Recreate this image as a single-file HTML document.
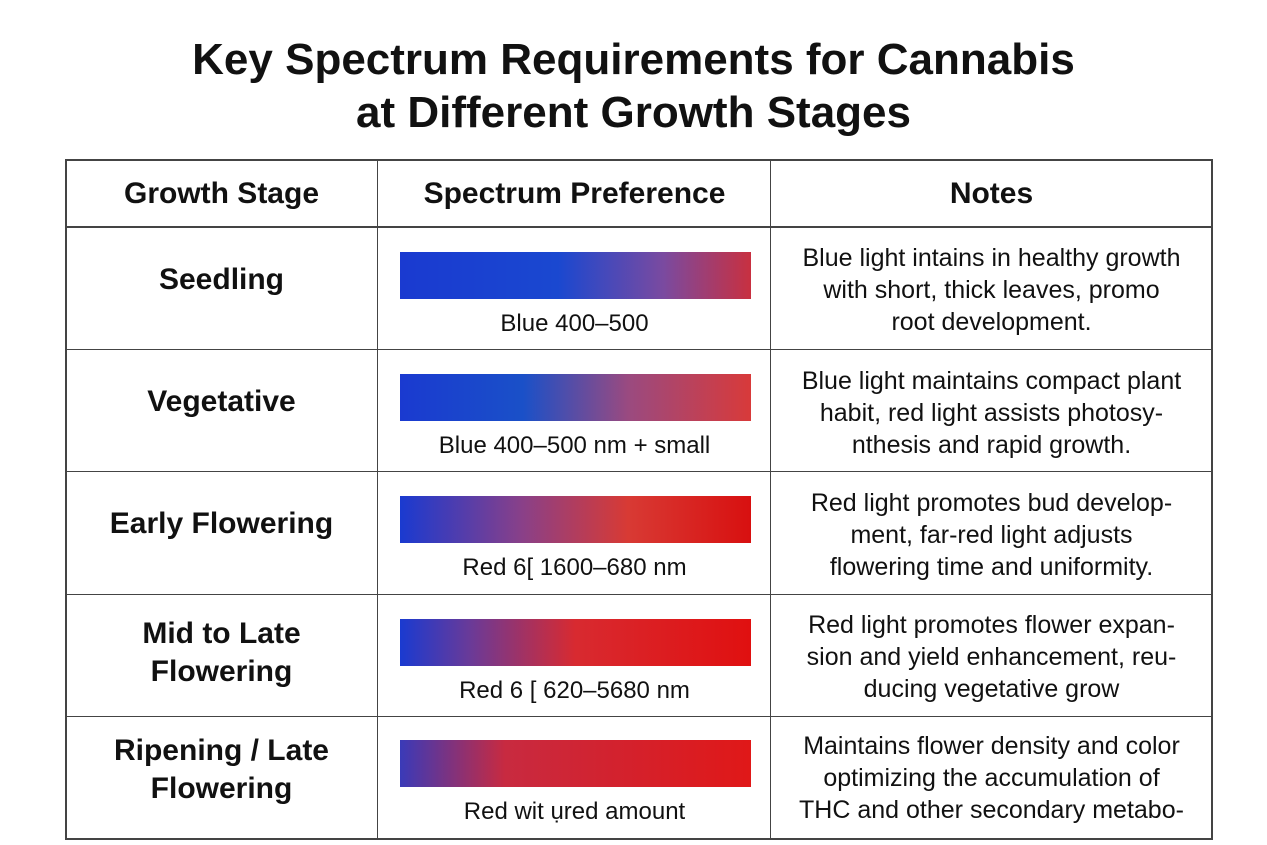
<!DOCTYPE html>
<html><head><meta charset="utf-8"><style>
body{margin:0;width:1267px;height:845px;background:#fff;font-family:"Liberation Sans",sans-serif;color:#111;position:relative;overflow:hidden}
.t{position:absolute;left:0;width:1267px;text-align:center;font-weight:bold;font-size:44px;line-height:53px}
.a{position:absolute;font-size:30px;text-align:center}
.b{position:absolute;left:400px;width:351px;height:47px}
.n{position:absolute;left:771px;width:441px;text-align:center;font-size:25px;line-height:32px;white-space:nowrap}
.l{position:absolute;left:378px;width:393px;text-align:center;font-size:24px}
.h{position:absolute;background:#444}
</style></head><body>
<div class="t" style="top:33px">Key Spectrum Requirements for Cannabis</div>
<div class="t" style="top:86px">at Different Growth Stages</div>
<div class="h" style="left:65px;top:159px;width:1148px;height:2px"></div>
<div class="h" style="left:65px;top:226px;width:1148px;height:2px"></div>
<div class="h" style="left:65px;top:349px;width:1148px;height:1px"></div>
<div class="h" style="left:65px;top:471px;width:1148px;height:1px"></div>
<div class="h" style="left:65px;top:594px;width:1148px;height:1px"></div>
<div class="h" style="left:65px;top:716px;width:1148px;height:1px"></div>
<div class="h" style="left:65px;top:838px;width:1148px;height:2px"></div>
<div class="h" style="left:65px;top:159px;width:2px;height:681px"></div>
<div class="h" style="left:377px;top:159px;width:1px;height:681px"></div>
<div class="h" style="left:770px;top:159px;width:1px;height:681px"></div>
<div class="h" style="left:1211px;top:159px;width:2px;height:681px"></div>
<div class="a" style="left:65px;width:313px;top:177px;font-weight:bold">Growth Stage</div>
<div class="a" style="left:378px;width:393px;top:177px;font-weight:bold">Spectrum Preference</div>
<div class="a" style="left:771px;width:441px;top:177px;font-weight:bold">Notes</div>
<div class="a" style="left:65px;width:313px;top:263px;font-weight:bold">Seedling</div>
<div class="a" style="left:65px;width:313px;top:385px;font-weight:bold">Vegetative</div>
<div class="a" style="left:65px;width:313px;top:507px;font-weight:bold">Early Flowering</div>
<div class="a" style="left:65px;width:313px;top:615px;font-weight:bold;line-height:38px">Mid to Late<br>Flowering</div>
<div class="a" style="left:65px;width:313px;top:732px;font-weight:bold;line-height:38px">Ripening / Late<br>Flowering</div>
<div class="b" style="top:252px;background:linear-gradient(90deg,#1a3ad0 0%,#1a48d0 45%,#7a4aa0 75%,#c83040 100%)"></div>
<div class="b" style="top:374px;background:linear-gradient(90deg,#1a3ad0 0%,#1a50c8 35%,#9a4a80 65%,#d83a3a 100%)"></div>
<div class="b" style="top:496px;background:linear-gradient(90deg,#1a3ad0 0%,#8a4088 35%,#d83a34 65%,#d81010 100%)"></div>
<div class="b" style="top:619px;background:linear-gradient(90deg,#1a3ad0 0%,#6a3a98 20%,#d82a30 50%,#e01010 100%)"></div>
<div class="b" style="top:740px;background:linear-gradient(90deg,#3a3ab8 0%,#c82a40 30%,#e01818 100%)"></div>
<div class="l" style="top:310px">Blue 400–500</div>
<div class="l" style="top:432px">Blue 400–500 nm + small</div>
<div class="l" style="top:554px">Red 6[ 1600–680 nm</div>
<div class="l" style="top:677px">Red 6 [ 620–5680 nm</div>
<div class="l" style="top:798px">Red wit ụred amount</div>
<div class="n" style="top:242px">Blue light intains in healthy growth<br>with short, thick leaves, promo<br>root development.</div>
<div class="n" style="top:365px">Blue light maintains compact plant<br>habit, red light assists photosy-<br>nthesis and rapid growth.</div>
<div class="n" style="top:487px">Red light promotes bud develop-<br>ment, far-red light adjusts<br>flowering time and uniformity.</div>
<div class="n" style="top:609px">Red light promotes flower expan-<br>sion and yield enhancement, reu-<br>ducing vegetative grow</div>
<div class="n" style="top:730px">Maintains flower density and color<br>optimizing the accumulation of<br>THC and other secondary metabo-</div>
</body></html>
